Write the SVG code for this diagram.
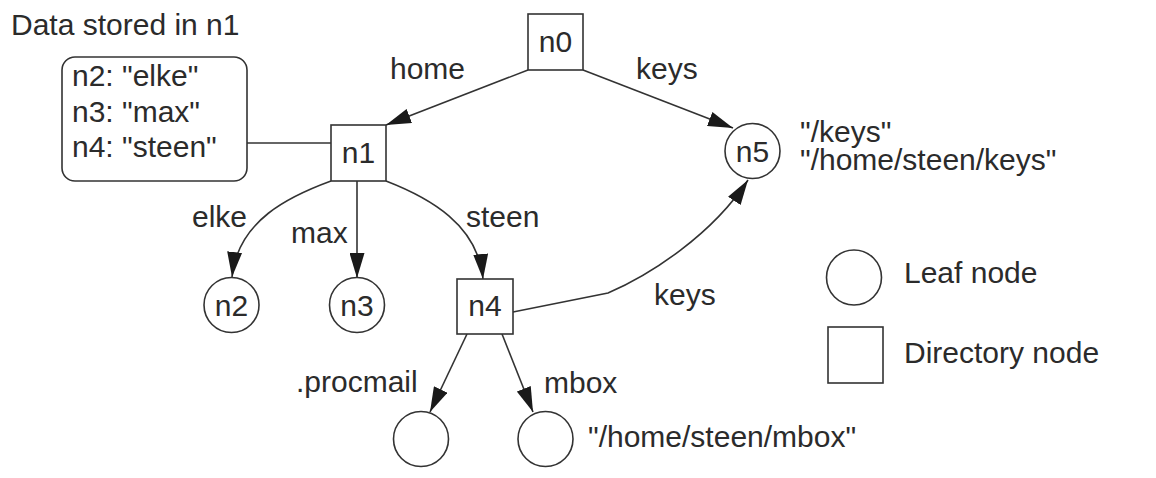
<svg xmlns="http://www.w3.org/2000/svg" width="1156" height="478" viewBox="0 0 1156 478">
  <style>
    text { font-family: "Liberation Sans", Arial, sans-serif; font-size: 30px; fill: #2b2b2b; }
    .mid { text-anchor: middle; }
    .node { fill: #ffffff; stroke: #333333; stroke-width: 1.6; }
    .edge { fill: none; stroke: #333333; stroke-width: 1.6; }
  </style>
  <defs>
    <marker id="arrow" markerUnits="userSpaceOnUse" markerWidth="25" markerHeight="15" refX="25" refY="7.5" orient="auto">
      <path d="M0,0 L25,7.5 L0,15 z" fill="#1a1a1a"/>
    </marker>
  </defs>
  <rect width="1156" height="478" fill="#ffffff"/>

  <!-- connectors -->
  <g id="connectors">
    <path class="edge" d="M247,143 L331,143"/>
    <path class="edge" d="M528,70 L386,125" marker-end="url(#arrow)"/>
    <path class="edge" d="M583,70 L733,128" marker-end="url(#arrow)"/>
    <path class="edge" d="M331,181 C290,196 238,220 232,277" marker-end="url(#arrow)"/>
    <path class="edge" d="M357,181 L357,278" marker-end="url(#arrow)"/>
    <path class="edge" d="M386,181 C430,198 478,225 483,279" marker-end="url(#arrow)"/>
    <path class="edge" d="M513,312 L608,293 C650,275 712,235 748,180" marker-end="url(#arrow)"/>
    <path class="edge" d="M467,334 L430,412" marker-end="url(#arrow)"/>
    <path class="edge" d="M502,334 L533,412" marker-end="url(#arrow)"/>
  </g>

  <!-- edge labels -->
  <g id="edge-labels">
    <text x="390" y="79">home</text>
    <text x="636" y="79">keys</text>
    <text x="192" y="227">elke</text>
    <text x="291" y="243">max</text>
    <text x="466" y="227">steen</text>
    <text x="654" y="305">keys</text>
    <text x="296" y="392">.procmail</text>
    <text x="544" y="393">mbox</text>
  </g>

  <!-- data attached to n1 -->
  <g id="n1-data">
    <text x="11" y="35">Data stored in n1</text>
    <rect class="node" x="62" y="57" width="185" height="124" rx="13"/>
    <text x="72" y="86">n2: "elke"</text>
    <text x="72" y="122">n3: "max"</text>
    <text x="72" y="157">n4: "steen"</text>
  </g>

  <g id="n0">
    <rect class="node" x="528" y="14" width="55" height="56"/>
    <text class="mid" x="555.5" y="52">n0</text>
  </g>
  <g id="n1">
    <rect class="node" x="331" y="125" width="55" height="56"/>
    <text class="mid" x="358.5" y="163">n1</text>
  </g>
  <g id="n2">
    <circle class="node" cx="231.5" cy="305" r="27.5"/>
    <text class="mid" x="231.5" y="316">n2</text>
  </g>
  <g id="n3">
    <circle class="node" cx="357" cy="305" r="27.5"/>
    <text class="mid" x="357" y="316">n3</text>
  </g>
  <g id="n4">
    <rect class="node" x="457" y="279" width="56" height="55"/>
    <text class="mid" x="485" y="316">n4</text>
  </g>
  <g id="n5">
    <circle class="node" cx="752.5" cy="151" r="27.5"/>
    <text class="mid" x="752.5" y="162">n5</text>
    <text x="800" y="142">"/keys"</text>
    <text x="800" y="170">"/home/steen/keys"</text>
  </g>
  <g id="procmail">
    <circle class="node" cx="421" cy="439" r="27.5"/>
  </g>
  <g id="mbox">
    <circle class="node" cx="545.5" cy="439" r="27.5"/>
    <text x="588" y="447">"/home/steen/mbox"</text>
  </g>

  <!-- legend -->
  <g id="legend-leaf">
    <circle class="node" cx="854" cy="277.5" r="27.5"/>
    <text x="904" y="283">Leaf node</text>
  </g>
  <g id="legend-directory">
    <rect class="node" x="828" y="327" width="55" height="56"/>
    <text x="904" y="363">Directory node</text>
  </g>
</svg>
